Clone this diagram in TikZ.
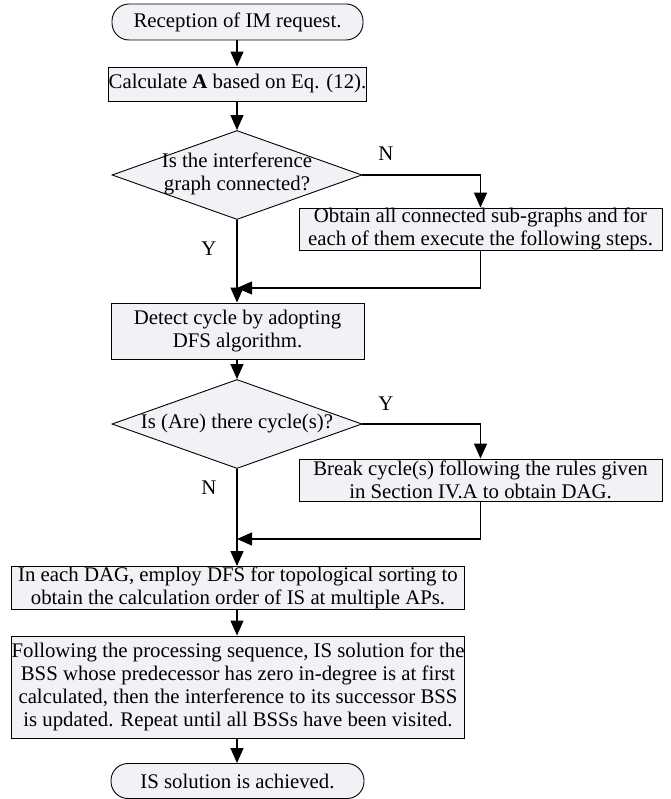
\documentclass[tikz,border=0pt]{standalone}
\usepackage{fontspec}
\setmainfont{Liberation Serif}
\usetikzlibrary{shapes.geometric,arrows.meta}
\definecolor{boxfill}{RGB}{242,242,246}
\tikzset{
  base/.style={draw=black, line width=0.9pt, fill=boxfill, inner sep=0pt, align=center,
    font=\fontsize{20.8}{22.8}\selectfont},
  procbox/.style={base, rectangle},
  termbox/.style={base, rectangle, rounded corners=17pt},
  decbox/.style={base, diamond, aspect=2.8},
  conn/.style={line width=1.3pt, -{Triangle[length=15pt,width=13pt]}},
  lbl/.style={font=\fontsize{20.8}{22.8}\selectfont, inner sep=0pt},
}
\begin{document}
\begin{tikzpicture}[x=1pt,y=-1pt]
\useasboundingbox (0,0) rectangle (670,799);
\node[termbox, minimum width=251pt, minimum height=36pt] (start) at (237.5,22) {Reception of IM request.};
\node[procbox, minimum width=252pt, minimum height=34pt] (calc) at (237.5,84) {Calculate \textbf{A} based on Eq. (12).};
\node[decbox, minimum width=250pt, minimum height=89pt] (d1) at (237,175) {};
\node[lbl, align=center] (d1t) at (237,174) {Is the interference\\graph connected?};
\node[procbox, minimum width=363pt, minimum height=42pt] (obt) at (480.5,229) {Obtain all connected sub-graphs and for\\each of them execute the following steps.};
\node[procbox, minimum width=253pt, minimum height=56pt] (det) at (237.5,331) {Detect cycle by adopting\\DFS algorithm.};
\node[decbox, minimum width=250pt, minimum height=89pt] (d2) at (237,424) {};
\node[lbl] (d2t) at (237,424) {Is (Are) there cycle(s)?};
\node[procbox, minimum width=363pt, minimum height=42pt] (brk) at (480.5,480) {Break cycle(s) following the rules given\\in Section IV.A to obtain DAG.};
\node[procbox, minimum width=453pt, minimum height=43pt] (dag) at (238,588) {In each DAG, employ DFS for topological sorting to\\obtain the calculation order of IS at multiple APs.};
\node[procbox, minimum width=453pt, minimum height=102pt] (fol) at (238,687) {Following the processing sequence, IS solution for the\\BSS whose predecessor has zero in-degree is at first\\calculated, then the interference to its successor BSS\\is updated. Repeat until all BSSs have been visited.};
\node[termbox, minimum width=253pt, minimum height=35pt] (end) at (237.5,781) {IS solution is achieved.};
\coordinate (j1) at (237,288);
\coordinate (j2) at (237,539);
\node[lbl] (y1) at (209,249) {Y};
\node[lbl] (n1) at (386,154) {N};
\node[lbl] (y2) at (386,404) {Y};
\node[lbl] (n2) at (209,488) {N};
\draw[conn] (start.south -| 237,0) -- (calc.north -| 237,0);
\draw[conn] (calc.south -| 237,0) -- (d1.north);
\draw[conn] (d1.east) -| (obt.north);
\draw[conn] (obt.south) |- (j1);
\draw[conn] (d1.south) -- (det.north -| 237,0);
\draw[conn] (det.south -| 237,0) -- (d2.north);
\draw[conn] (d2.east) -| (brk.north);
\draw[conn] (brk.south) |- (j2);
\draw[conn] (d2.south) -- (dag.north -| 237,0);
\draw[conn] (dag.south -| 237,0) -- (fol.north -| 237,0);
\draw[conn] (fol.south -| 237,0) -- (end.north -| 237,0);
\end{tikzpicture}
\end{document}
